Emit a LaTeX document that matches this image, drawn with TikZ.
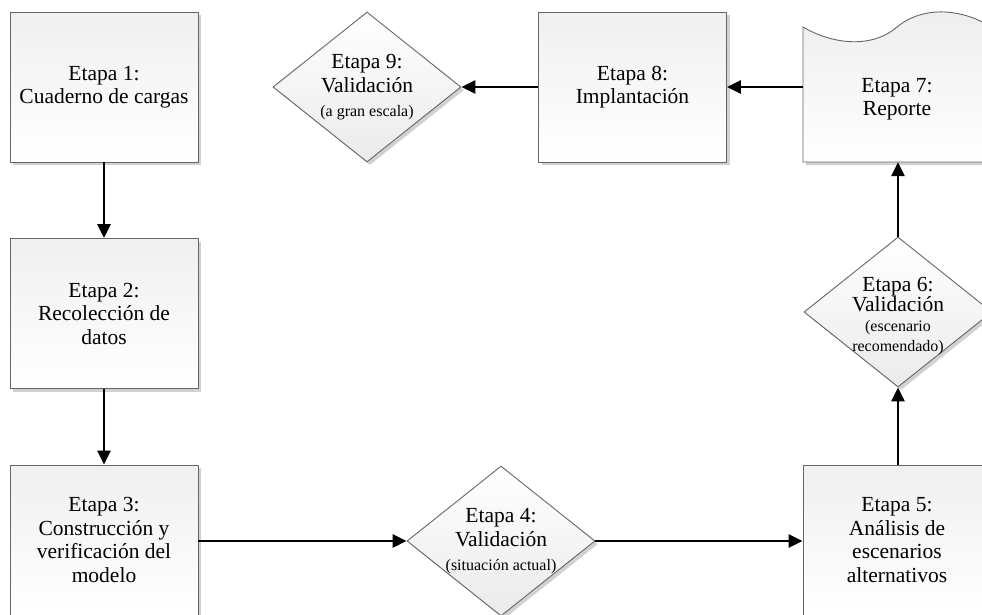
\documentclass[tikz,border=0pt]{standalone}
\usepackage{fontspec}
\setmainfont{Liberation Serif}
\usetikzlibrary{shapes.geometric,shadows,arrows.meta}
\begin{document}
\begin{tikzpicture}[x=1pt,y=-1pt,
  shadowstyle/.style={drop shadow={shadow xshift=3pt, shadow yshift=-3pt, fill=black!18, opacity=1}},
  box/.style={rectangle, draw=black!60, line width=0.9pt, minimum width=188pt, minimum height=150pt,
    inner sep=0pt, top color=black!6, bottom color=white, shadowstyle,
    align=center, font=\fontsize{21.5}{23.5}\selectfont},
  dia/.style={diamond, draw=black!60, line width=0.9pt, minimum width=188pt, minimum height=150pt,
    inner sep=0pt, top color=white, bottom color=black!8, shadowstyle},
  txt/.style={align=center, inner sep=0pt, font=\fontsize{21.5}{24.5}\selectfont},
  arr/.style={line width=2.8pt, -{Triangle[length=14pt,width=13pt]}}]
\useasboundingbox (0,0) rectangle (982,614);

% boxes
\node[box] (e1) at (104,87) {Etapa 1:\\Cuaderno de cargas};
\node[box] (e2) at (104,313.5) {Etapa 2:\\Recolecci\'on de\\datos};
\node[box] (e3) at (104,540) {Etapa 3:\\Construcci\'on y\\verificaci\'on del\\modelo};
\node[box] (e5) at (897,540) {Etapa 5:\\An\'alisis de\\escenarios\\alternativos};
\node[box] (e8) at (632.5,87) {Etapa 8:\\Implantaci\'on};

% diamonds
\node[dia] (d4) at (501,541) {};
\node[txt] (t4) at (d4.center) {Etapa 4:\\Validaci\'on\\[-1pt]{\fontsize{16}{19}\selectfont (situaci\'on actual)}};
\node[dia] (d6) at (898,312) {};
\node[txt, font=\fontsize{21.5}{20}\selectfont] (t6) at ([yshift=-4pt]d6.center) {Etapa 6:\\Validaci\'on\\{\fontsize{16}{20}\selectfont (escenario}\\{\fontsize{16}{20}\selectfont recomendado)}};
\node[dia] (d9) at (367,87) {};
\node[txt] (t9) at (d9.center) {Etapa 9:\\Validaci\'on\\[-1pt]{\fontsize{16}{19}\selectfont (a gran escala)}};

% document shape (Etapa 7)
\fill[black!18, shift={(3,3)}] (803,27) .. controls (830,43) and (870,50) .. (897,27)
  .. controls (925,4) and (965,10) .. (991,27) -- (991,162) -- (803,162) -- cycle;
\shade[top color=black!7, bottom color=white, draw=black!60, line width=0.9pt]
  (803,27) .. controls (830,43) and (870,50) .. (897,27)
  .. controls (925,4) and (965,10) .. (991,27) -- (991,162) -- (803,162) -- cycle;
\node[minimum width=188pt, minimum height=135pt, inner sep=0pt] (e7) at (897,94.5) {};
\node[txt, font=\fontsize{21.5}{23.5}\selectfont] (t7) at (897,99) {Etapa 7:\\Reporte};

% connectors
\draw[arr] (e1.south) -- (e2.north);
\draw[arr] (e2.south) -- (e3.north);
\draw[arr] (e3.east |- d4.west) -- (d4.west);
\draw[arr] (d4.east) -- (e5.west |- d4.east);
\draw[arr] (e5.north -| d6.south) -- (d6.south);
\draw[arr] (d6.north) -- (e7.south -| d6.north);
\draw[arr] (e8.east -| e7.west) -- (e8.east);
\draw[arr] (e8.west) -- (d9.east);
\end{tikzpicture}
\end{document}
